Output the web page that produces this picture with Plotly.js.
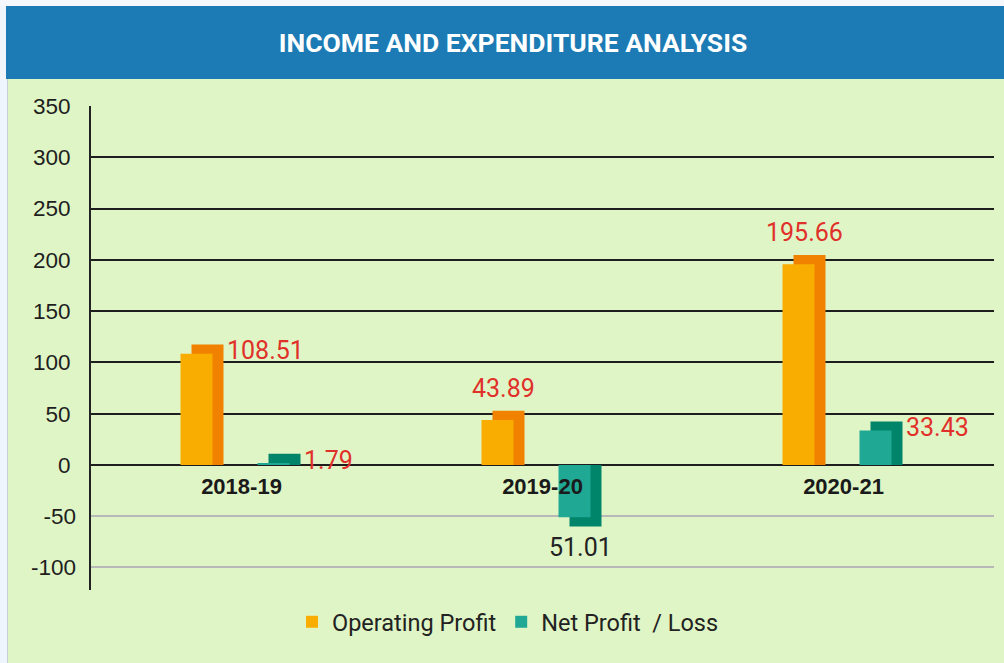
<!DOCTYPE html>
<html>
<head>
<meta charset="utf-8">
<script src="https://cdn.plot.ly/plotly-3.0.1.min.js"></script>
<style>
  html, body { margin: 0; padding: 0; background: #e0f5c5; }
  #chart { width: 1004px; height: 663px; }
</style>
</head>
<body>
<div id="chart"></div>
<script>
// ---- data ----
const years = ['2018-19', '2019-20', '2020-21'];
const operatingProfit = [108.51, 43.89, 195.66];
const netProfitLoss = [1.79, -51.01, 33.43];
const seriesNames = ['Operating Profit', 'Net Profit  / Loss'];
const posTicks = [0, 50, 100, 150, 200, 250, 300, 350];
const negTicks = [-50, -100];
const chartTitle = 'INCOME AND EXPENDITURE ANALYSIS';

// ---- style ----
const GREEN = '#e0f5c5';
const OR_FRONT = '#f9ad00', OR_SIDE = '#f08200';
const TE_FRONT = '#1fa894', TE_SIDE = '#00856a';
const DEPTH = 9;              // y units of 3D depth
const CAT_PX = 903 / 3;       // pixel width of one category
const BAR_W = 32 / CAT_PX;
const SIDE = 11 / CAT_PX;
const OR_LEFT_PX = -61, TE_LEFT_PX = 16;
const OR_OFF = OR_LEFT_PX / CAT_PX;
const TE_OFF = TE_LEFT_PX / CAT_PX;
const PX_PER_UNIT = 484 / 472;

function deep(arr) { return arr.map(v => v + Math.sign(v) * DEPTH); }

const traces = [
  { type: 'bar', x: years, y: deep(operatingProfit), width: BAR_W, offset: OR_OFF + SIDE,
    marker: { color: OR_SIDE }, showlegend: false, hoverinfo: 'skip' },
  { type: 'bar', x: years, y: deep(netProfitLoss), width: BAR_W, offset: TE_OFF + SIDE,
    marker: { color: TE_SIDE }, showlegend: false, hoverinfo: 'skip' },
  { type: 'bar', x: years, y: operatingProfit, width: BAR_W, offset: OR_OFF,
    marker: { color: OR_FRONT }, name: seriesNames[0] },
  { type: 'bar', x: years, y: netProfitLoss, width: BAR_W, offset: TE_OFF,
    marker: { color: TE_FRONT }, name: seriesNames[1] }
];

// label placement styles
const opPlace = ['right', 'above', 'above'];
const netPlace = ['right', 'below', 'right'];
const annotations = [];
function addLabels(vals, places, leftPx) {
  const rightPx = leftPx + 32 + 11;
  vals.forEach((v, i) => {
    const a = {
      xref: 'x', yref: 'y', x: years[i], y: v, showarrow: false,
      text: Math.abs(v).toFixed(2),
      font: { family: 'Roboto, Arial, sans-serif', size: 25, color: v < 0 ? '#222222' : '#e0302a' }
    };
    const dpx = DEPTH * PX_PER_UNIT;
    if (places[i] === 'right') {
      a.xanchor = 'left'; a.yanchor = 'middle'; a.xshift = rightPx + 1; a.yshift = 3;
    } else if (places[i] === 'above') {
      a.xanchor = 'center'; a.yanchor = 'bottom'; a.xshift = (leftPx + rightPx) / 2; a.yshift = dpx + 6;
    } else {
      a.xanchor = 'center'; a.yanchor = 'top'; a.xshift = (leftPx + rightPx) / 2; a.yshift = -(dpx + 5);
    }
    annotations.push(a);
  });
}
addLabels(operatingProfit, opPlace, OR_LEFT_PX);
addLabels(netProfitLoss, netPlace, TE_LEFT_PX);

// pixel -> paper helpers (plot area: x 91..994, y 106..590)
const px2x = p => (p - 91) / 903;
const px2y = p => (590 - p) / 484;

const shapes = [
  { type: 'rect', xref: 'paper', yref: 'paper', layer: 'below',
    x0: px2x(0), x1: px2x(7), y0: px2y(663), y1: px2y(0), fillcolor: '#eef5fb', line: { width: 0 } },
  { type: 'line', xref: 'paper', yref: 'paper', layer: 'below',
    x0: px2x(7.5), x1: px2x(7.5), y0: px2y(663), y1: px2y(6), line: { color: '#c8cfd6', width: 1 } },
  { type: 'rect', xref: 'paper', yref: 'paper', layer: 'below',
    x0: px2x(0), x1: px2x(1004), y0: px2y(6), y1: px2y(0), fillcolor: '#f4f8fc', line: { width: 0 } },
  { type: 'rect', xref: 'paper', yref: 'paper', layer: 'below',
    x0: px2x(6), x1: px2x(1004), y0: px2y(79), y1: px2y(6), fillcolor: '#1c7bb4', line: { width: 0 } }
];

const tickFont = { family: 'Liberation Sans, Arial, sans-serif', size: 22.5, color: '#1e1e1e' };

const layout = {
  width: 1004, height: 663,
  paper_bgcolor: GREEN, plot_bgcolor: 'rgba(0,0,0,0)',
  margin: { l: 91, r: 10, t: 106, b: 73 },
  title: {
    text: chartTitle, xref: 'container', yref: 'container', x: 0.511, y: 1 - 43 / 663,
    xanchor: 'center', yanchor: 'middle',
    font: { family: 'Roboto, Arial, sans-serif', size: 26.5, color: '#ffffff', weight: 'bold' }
  },
  barmode: 'overlay',
  showlegend: true,
  legend: {
    orientation: 'h', x: px2x(508), xanchor: 'center', y: px2y(622), yanchor: 'middle',
    font: { family: 'Roboto, Arial, sans-serif', size: 23.5, color: '#222222' },
    bgcolor: 'rgba(0,0,0,0)', itemclick: false
  },
  xaxis: {
    type: 'category', anchor: 'free', position: px2y(465),
    showline: false, showgrid: false, zeroline: false, ticks: '',
    tickfont: { family: 'Liberation Sans, Arial, sans-serif', size: 22, color: '#1a1a1a', weight: 'bold' },
    ticklabelstandoff: 6
  },
  yaxis: {
    range: [-122, 350], tickmode: 'array', tickvals: posTicks, ticktext: posTicks.map(String),
    showline: true, linecolor: '#222222', linewidth: 2,
    showgrid: true, gridcolor: '#1e1e1e', gridwidth: 2, zeroline: false,
    ticks: '', tickfont: tickFont, ticklabelstandoff: 14
  },
  yaxis2: {
    overlaying: 'y', side: 'left', range: [-122, 350], tickmode: 'array',
    tickvals: negTicks, ticktext: negTicks.map(String),
    showline: false, showgrid: true, gridcolor: '#b8b8b8', gridwidth: 2, zeroline: false,
    ticks: '', tickfont: tickFont, ticklabelstandoff: 14
  },
  shapes: shapes,
  annotations: annotations
};

// invisible helper trace so the secondary (negative-grid) axis is drawn
traces.push({ type: 'scatter', x: [years[0]], y: [0], yaxis: 'y2', mode: 'markers',
  marker: { opacity: 0 }, showlegend: false, hoverinfo: 'skip' });

Plotly.newPlot('chart', traces, layout, { displayModeBar: false, staticPlot: true });
</script>
</body>
</html>
